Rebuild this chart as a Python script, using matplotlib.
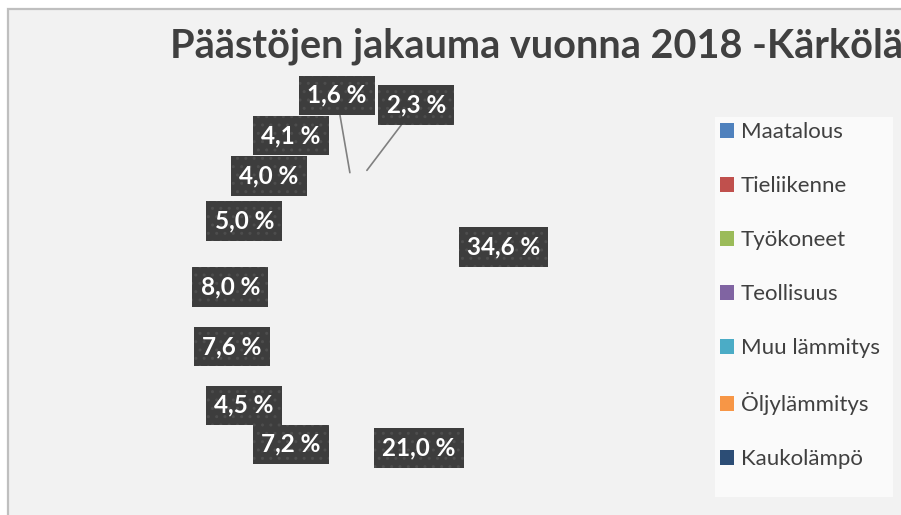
import numpy as np
import matplotlib
import matplotlib.pyplot as plt
from matplotlib.patches import Patch, Rectangle

matplotlib.use("Agg")

plt.rcParams['font.family'] = ['Lato', 'DejaVu Sans']

# Data
categories = ["Maatalous", "Tieliikenne", "Työkoneet", "Teollisuus",
              "Muu lämmitys", "Öljylämmitys", "Kaukolämpö"]
colors = ["#4f81bd", "#c0504d", "#9bbb59", "#8064a2", "#4bacc6", "#f79646", "#2c4d75"]
shares = [34.6, 21.0, 7.2, 4.5, 7.6, 8.0, 5.0, 4.0, 4.1, 1.6, 2.3]
title = "Päästöjen jakauma vuonna 2018 -Kärkölä"

# label placement (distance in radii, clockwise shift in degrees)
label_dist = [1.01, 1.03, 1.14, 1.17, 1.07, 1.06, 1.14, 1.23, 1.39, 1.56, 1.49]
label_shift = [1.1, 0.6, -0.7, 0.0, -0.3, -5.4, -3.9, -2.9, -4.8, 0.5, 15.0]
leader = [False] * 9 + [True, True]

W, H = 901, 515
fig = plt.figure(figsize=(W / 100, H / 100), dpi=100)
fig.patch.set_facecolor("white")

# chart area frame
fig.patches.append(Rectangle((8 / W, -0.1), 1.2, 1.1 - 9.5 / H, transform=fig.transFigure,
                             facecolor="#f2f2f2", edgecolor="#bfbfbf", linewidth=1.6, zorder=-2))
# legend background
fig.patches.append(Rectangle((715 / W, 1 - 497 / H), 178 / W, 380 / H, transform=fig.transFigure,
                             facecolor="#fafafa", edgecolor="none", zorder=-1))

# pie axes: centre (377, 310) px, radius 140 px
cx, cy, R, half = 377, 310, 140, 220
ax = fig.add_axes([(cx - half) / W, (H - cy - half) / H, 2 * half / W, 2 * half / H])
ax.set_zorder(2)
wedges, _ = ax.pie(shares, startangle=90, counterclock=False, radius=1,
                   wedgeprops=dict(alpha=0, linewidth=0))
ax.set_xlim(-half / R, half / R)
ax.set_ylim(-half / R, half / R)
ax.axis("off")

bbox = dict(boxstyle="square,pad=0.34", facecolor="#3d3d3d", edgecolor="#4d4d4d",
            linewidth=0, hatch="..")
for w, v, d, s, lead in zip(wedges, shares, label_dist, label_shift, leader):
    mid = np.deg2rad((w.theta1 + w.theta2) / 2)
    ang = mid - np.deg2rad(s)
    txt = ("%.1f %%" % v).replace(".", ",")
    pos = (d * np.cos(ang), d * np.sin(ang))
    if lead:
        ax.annotate(txt, xy=(np.cos(mid), np.sin(mid)), xytext=pos,
                    ha="center", va="center", color="white", fontsize=17.5,
                    fontweight="bold", bbox=bbox,
                    arrowprops=dict(arrowstyle="-", color="#808080", lw=1.2,
                                    shrinkA=0, shrinkB=0))
    else:
        ax.text(pos[0], pos[1], txt, ha="center", va="center", color="white",
                fontsize=17.5, fontweight="bold", bbox=bbox)

fig.text(170 / W, 1 - 46 / H, title, ha="left", va="center", fontsize=28.5,
         fontweight="bold", color="#404040")

handles = [Patch(facecolor=c, edgecolor="none") for c in colors]
fig.legend(handles, categories, loc="upper left", bbox_to_anchor=(720 / W, 1 - 122 / H),
           frameon=False, fontsize=16, labelcolor="#404040", handlelength=0.65,
           handleheight=0.65, handletextpad=0.3, labelspacing=1.53, borderaxespad=0,
           borderpad=0)

fig.savefig("out.png", dpi=100)
